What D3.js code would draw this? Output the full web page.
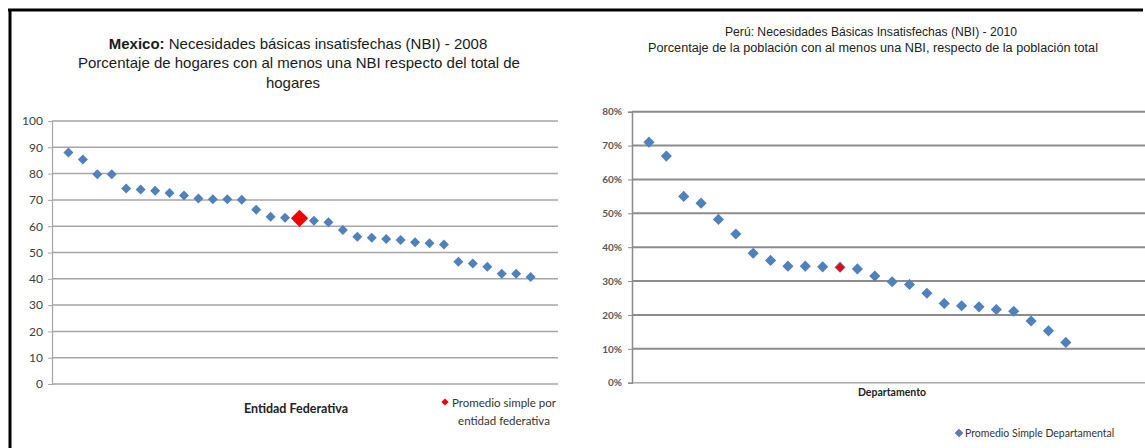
<!DOCTYPE html>
<html lang="es">
<head>
<meta charset="UTF-8">
<title>NBI Mexico / Perú</title>
<script src="https://cdn.jsdelivr.net/npm/d3@7"></script>
<style>
  body { margin: 0; background: #fff; }
  svg { display: block; }
</style>
</head>
<body>
<script>
// Mexico 2008: % hogares con al menos una NBI (ordenado)
const mexicoValues = [88, 85.4, 79.8, 79.8, 74.3, 74.0, 73.5, 72.6, 71.7, 70.5, 70.2, 70.2, 70.1,
  66.3, 63.6, 63.2, 62.1, 61.5, 58.6, 56.0, 55.6, 55.1, 54.8, 53.9, 53.5, 53.0,
  46.5, 45.8, 44.6, 41.9, 41.9, 40.7];
const mexicoAvg = 63.0;
const mexicoAvgPos = 17;   // position of the average among the points
const mexicoTicks = [0, 10, 20, 30, 40, 50, 60, 70, 80, 90, 100];

// Peru 2010: % poblacion con al menos una NBI (ordenado)
const peruValues = [71.0, 66.9, 55.0, 53.0, 48.2, 43.9, 38.2, 36.1, 34.4, 34.4, 34.2, 34.1, 33.6,
  31.5, 29.8, 29.0, 26.4, 23.4, 22.7, 22.4, 21.6, 21.1, 18.2, 15.3, 11.9];
const peruAvg = 34.0;
const peruAvgPos = 12;
const peruTicks = [0, 10, 20, 30, 40, 50, 60, 70, 80];

const W = 1145, H = 448;
const blue = "#4f81bd", red = "#f00000";

const svg = d3.select("body").append("svg")
  .attr("width", W).attr("height", H);

// frame
svg.append("line").attr("x1", 8).attr("x2", 1143).attr("y1", 10).attr("y2", 10)
  .attr("stroke", "#000").attr("stroke-width", 3);
svg.append("line").attr("x1", 10).attr("x2", 10).attr("y1", 9).attr("y2", H)
  .attr("stroke", "#000").attr("stroke-width", 3);

const diamond = size => d3.symbol(d3.symbolSquare, size);

// ---------- Mexico ----------
const gL = svg.append("g");
const xL = d3.scaleLinear().domain([0, 35]).range([54, 559.5]);
const yL = d3.scaleLinear().domain([0, 100]).range([384, 121]);

gL.append("g").selectAll("line").data(mexicoTicks.slice(1)).join("line")
  .attr("x1", 52).attr("x2", 558)
  .attr("y1", d => yL(d)).attr("y2", d => yL(d))
  .attr("stroke", "#a6a6a6").attr("stroke-width", 1.5);
gL.append("line").attr("x1", 52).attr("x2", 558).attr("y1", yL(0)).attr("y2", yL(0))
  .attr("stroke", "#a6a6a6").attr("stroke-width", 1.5);

const axL = gL.append("g").attr("transform", "translate(52,0)")
  .call(d3.axisLeft(yL).tickValues(mexicoTicks).tickSize(4).tickPadding(5));
axL.select(".domain").attr("stroke", "#a6a6a6").attr("stroke-width", 1.2);
axL.selectAll(".tick line").attr("stroke", "#a6a6a6");
axL.selectAll("text").attr("fill", "#404040")
  .style("font", "12px Lato, 'Open Sans', sans-serif");

const mexPts = mexicoValues.map((v, i) => ({ pos: i < mexicoAvgPos - 1 ? i + 1 : i + 2, v }));
gL.append("g").selectAll("path").data(mexPts).join("path")
  .attr("d", diamond(50))
  .attr("transform", d => `translate(${xL(d.pos)},${yL(d.v)}) rotate(45)`)
  .attr("fill", blue);
gL.append("path").attr("d", diamond(150))
  .attr("transform", `translate(${xL(mexicoAvgPos)},${yL(mexicoAvg)}) rotate(45)`)
  .attr("fill", red);

const tL = gL.append("text").attr("text-anchor", "middle")
  .style("font-family", "'Liberation Sans', Arial, sans-serif").style("font-size", "15px")
  .attr("fill", "#1a1a1a");
const l1 = tL.append("tspan").attr("x", 298).attr("y", 49);
l1.append("tspan").attr("font-weight", "bold").text("Mexico:");
l1.append("tspan").text(" Necesidades básicas insatisfechas (NBI) - 2008");
tL.append("tspan").attr("x", 299).attr("y", 68)
  .text("Porcentaje de hogares con al menos una NBI respecto del total de");
tL.append("tspan").attr("x", 293).attr("y", 88).text("hogares");

gL.append("text").attr("x", 296).attr("y", 413).attr("text-anchor", "middle")
  .style("font", "bold 12.5px Lato, sans-serif").attr("fill", "#222")
  .text("Entidad Federativa");
gL.append("path").attr("d", diamond(26))
  .attr("transform", "translate(445,402) rotate(45)").attr("fill", red);
gL.append("text").attr("x", 452).attr("y", 407)
  .style("font", "11.5px Lato, sans-serif").attr("fill", "#333")
  .text("Promedio simple por");
gL.append("text").attr("x", 504).attr("y", 425).attr("text-anchor", "middle")
  .style("font", "11.5px Lato, sans-serif").attr("fill", "#333")
  .text("entidad federativa");

// ---------- Peru ----------
const gR = svg.append("g");
const xR = d3.scaleLinear().domain([0, 29.5]).range([631.6, 1144]);
const yR = d3.scaleLinear().domain([0, 80]).range([382.7, 111.7]);

gR.append("g").selectAll("line").data(peruTicks).join("line")
  .attr("x1", 632).attr("x2", W)
  .attr("y1", d => yR(d)).attr("y2", d => yR(d))
  .attr("stroke", d => d === 0 ? "#aaa" : "#8c8c8c").attr("stroke-width", d => d === 0 ? 1.5 : 2);

const axR = gR.append("g").attr("transform", "translate(632,0)")
  .call(d3.axisLeft(yR).tickValues(peruTicks).tickSize(4).tickPadding(6)
    .tickFormat(d => d + "%"));
axR.select(".domain").attr("stroke", "#8c8c8c").attr("stroke-width", 1.5);
axR.selectAll(".tick line").attr("stroke", "#8c8c8c");
axR.selectAll("text").attr("fill", "#595959")
  .style("font", "bold 10px Lato, sans-serif");

gR.append("g").selectAll("path").data(peruValues).join("path")
  .attr("d", diamond(62))
  .attr("transform", (d, i) => `translate(${xR(i + 1)},${yR(d)}) rotate(45)`)
  .attr("fill", blue);
gR.append("path").attr("d", diamond(40))
  .attr("transform", `translate(${xR(peruAvgPos)},${yR(peruAvg)}) rotate(45)`)
  .attr("fill", red);

const tR = gR.append("g")
  .style("font-family", "'Liberation Sans', Arial, sans-serif").style("font-size", "12px")
  .attr("fill", "#222");
tR.append("text").attr("x", 871).attr("y", 36).attr("text-anchor", "middle")
  .attr("textLength", 292).attr("lengthAdjust", "spacingAndGlyphs")
  .text("Perú: Necesidades Básicas Insatisfechas (NBI) - 2010");
tR.append("text").attr("x", 873).attr("y", 52).attr("text-anchor", "middle")
  .attr("textLength", 450).attr("lengthAdjust", "spacingAndGlyphs")
  .text("Porcentaje de la población con al menos una  NBI, respecto de la población total");

gR.append("text").attr("x", 892).attr("y", 396).attr("text-anchor", "middle")
  .style("font", "bold 10.5px Lato, sans-serif").attr("fill", "#222")
  .text("Departamento");
gR.append("path").attr("d", diamond(30))
  .attr("transform", "translate(959,433) rotate(45)").attr("fill", blue)
  .attr("stroke", "#9b59b6").attr("stroke-width", 0.8);
gR.append("text").attr("x", 965).attr("y", 437)
  .style("font", "10.5px Lato, sans-serif").attr("fill", "#333")
  .text("Promedio Simple Departamental");
</script>
</body>
</html>
